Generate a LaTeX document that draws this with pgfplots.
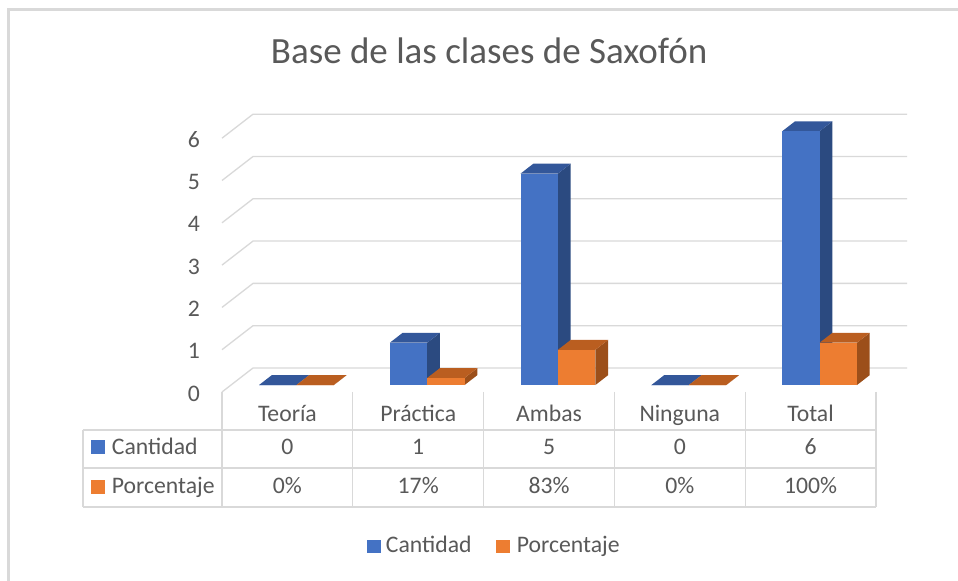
\documentclass[border=0pt]{standalone}
\usepackage{pgfplots}
\pgfplotsset{compat=1.18}
\usepackage{pgfplotstable}
\usepackage{fontspec}
\setmainfont{Carlito}
\definecolor{cblue}{HTML}{4472C4}
\definecolor{cbluetop}{HTML}{33579A}
\definecolor{cblueside}{HTML}{2B4A80}
\definecolor{corange}{HTML}{ED7D31}
\definecolor{corangetop}{HTML}{BA5E20}
\definecolor{corangeside}{HTML}{9C4F1A}
\definecolor{gridc}{HTML}{D9D9D9}
\definecolor{txt}{HTML}{595959}

\pgfplotstableread{
x cantidad porcentaje
0 0 0
1 1 0.1667
2 5 0.8333
3 0 0
4 6 1
}\datatable

\newcommand\cuboid[6]{%
 \edef\cuboidtmp{%
  \noexpand\addplot3[fill=#6, draw=none, forget plot] coordinates {(#2,0.29,0) (#2,0.70,0) (#2,0.70,#3) (#2,0.29,#3)};
  \noexpand\addplot3[fill=#5, draw=none, forget plot] coordinates {(#1,0.29,#3) (#2,0.29,#3) (#2,0.70,#3) (#1,0.70,#3)};
  \noexpand\addplot3[fill=#4, draw=none, forget plot] coordinates {(#1,0.29,0) (#2,0.29,0) (#2,0.29,#3) (#1,0.29,#3)};
 }\cuboidtmp}

\newcommand\lab{\fontsize{23.7bp}{28bp}\selectfont}

\begin{document}
\begin{tikzpicture}
\useasboundingbox (0,0) rectangle (958bp,581bp);
\fill[white] (0,0) rectangle (958bp,581bp);
\draw[gridc, line width=2.5bp] (8.5bp,0) -- (8.5bp,571.5bp) -- (958bp,571.5bp);
\node[anchor=base, inner sep=0, text=txt, font=\fontsize{37bp}{42bp}\selectfont] at (489.2bp,517.7bp) {Base de las clases de Saxofón};
\begin{axis}[
  hide axis, clip=false,
  x={(130.8bp,0bp)}, y={(31bp,24bp)}, z={(0bp,42.3bp)},
  xmin=-1.2, xmax=5.3, ymin=0, ymax=1, zmin=-3.9, zmax=6.6,
  anchor=origin, at={(222bp,189bp)},
  /pgf/number format/assume math mode=true,
]
% back wall gridlines
\pgfplotsinvokeforeach{0,...,6}{
  \addplot3[color=gridc, line width=1.3bp, mark=none] coordinates {(0,0,#1) (0,1,#1) (5,1,#1)};
}
% table lines
\pgfplotsinvokeforeach{0,...,5}{
  \addplot3[color=gridc, line width=1.3bp, mark=none] coordinates {(#1,0,0) (#1,0,-2.72)};
}
\addplot3[color=gridc, line width=1.3bp, mark=none] coordinates {(-1.063,0,-0.898) (5,0,-0.898)};
\addplot3[color=gridc, line width=1.3bp, mark=none] coordinates {(-1.063,0,-1.797) (5,0,-1.797)};
\addplot3[color=gridc, line width=1.3bp, mark=none] coordinates {(-1.063,0,-2.72) (5,0,-2.72)};
\addplot3[color=gridc, line width=1.3bp, mark=none] coordinates {(-1.063,0,-0.898) (-1.063,0,-2.72)};
% bars
\pgfplotsinvokeforeach{0,...,4}{
  \pgfplotstablegetelem{#1}{cantidad}\of\datatable \let\vb\pgfplotsretval
  \pgfplotstablegetelem{#1}{porcentaje}\of\datatable \let\vo\pgfplotsretval
  \pgfmathsetmacro\xa{#1+0.2143}%
  \pgfmathsetmacro\xb{#1+0.5}%
  \pgfmathsetmacro\xc{#1+0.7857}%
  \cuboid{\xa}{\xb}{\vb}{cblue}{cbluetop}{cblueside}
  \cuboid{\xb}{\xc}{\vo}{corange}{corangetop}{corangeside}
}
% y tick labels
\pgfplotsinvokeforeach{0,...,6}{
  \node[anchor=base east, inner sep=0, text=txt, font=\lab] at (axis cs:-0.168,0,#1-0.215) {#1};
}
% category labels
\node[anchor=base, inner sep=0, text=txt, font=\lab] at (axis cs:0.5,0,-0.702) {Teoría};
\node[anchor=base, inner sep=0, text=txt, font=\lab] at (axis cs:1.5,0,-0.702) {Práctica};
\node[anchor=base, inner sep=0, text=txt, font=\lab] at (axis cs:2.5,0,-0.702) {Ambas};
\node[anchor=base, inner sep=0, text=txt, font=\lab] at (axis cs:3.5,0,-0.702) {Ninguna};
\node[anchor=base, inner sep=0, text=txt, font=\lab] at (axis cs:4.5,0,-0.702) {Total};
% data rows
\addplot3[draw=none, mark=*, mark size=0pt, scatter/use mapped color={draw=none,fill=none}, point meta=explicit,
  nodes near coords={\pgfmathprintnumber[fixed,precision=0,assume math mode=true]{\pgfplotspointmeta}},
  nodes near coords style={anchor=base, inner sep=0, text=txt, font=\lab}]
  table[x expr=\coordindex+0.5, y expr=0, z expr=-1.485, meta=cantidad] {\datatable};
\addplot3[draw=none, mark=*, mark size=0pt, scatter/use mapped color={draw=none,fill=none}, point meta=explicit,
  nodes near coords={\pgfmathprintnumber[fixed,precision=0,assume math mode=true]{\pgfplotspointmeta}\%},
  nodes near coords style={anchor=base, inner sep=0, text=txt, font=\lab}]
  table[x expr=\coordindex+0.5, y expr=0, z expr=-2.395, meta expr=\thisrow{porcentaje}*100] {\datatable};
% table keys
\addplot3[only marks, mark=square*, mark size=6.35bp, color=cblue] coordinates {(-0.948,0,-1.300)};
\addplot3[only marks, mark=square*, mark size=6.35bp, color=corange] coordinates {(-0.948,0,-2.239)};
\node[anchor=base west, inner sep=0, text=txt, font=\lab] at (axis cs:-0.843,0,-1.485) {Cantidad};
\node[anchor=base west, inner sep=0, text=txt, font=\lab] at (axis cs:-0.843,0,-2.395) {Porcentaje};
% legend
\addplot3[only marks, mark=square*, mark size=6.35bp, color=cblue] coordinates {(1.159,0,-3.648)};
\addplot3[only marks, mark=square*, mark size=6.35bp, color=corange] coordinates {(2.148,0,-3.648)};
\node[anchor=base west, inner sep=0, text=txt, font=\lab] at (axis cs:1.2515,0,-3.806) {Cantidad};
\node[anchor=base west, inner sep=0, text=txt, font=\lab] at (axis cs:2.253,0,-3.806) {Porcentaje};
\end{axis}
\end{tikzpicture}
\end{document}
